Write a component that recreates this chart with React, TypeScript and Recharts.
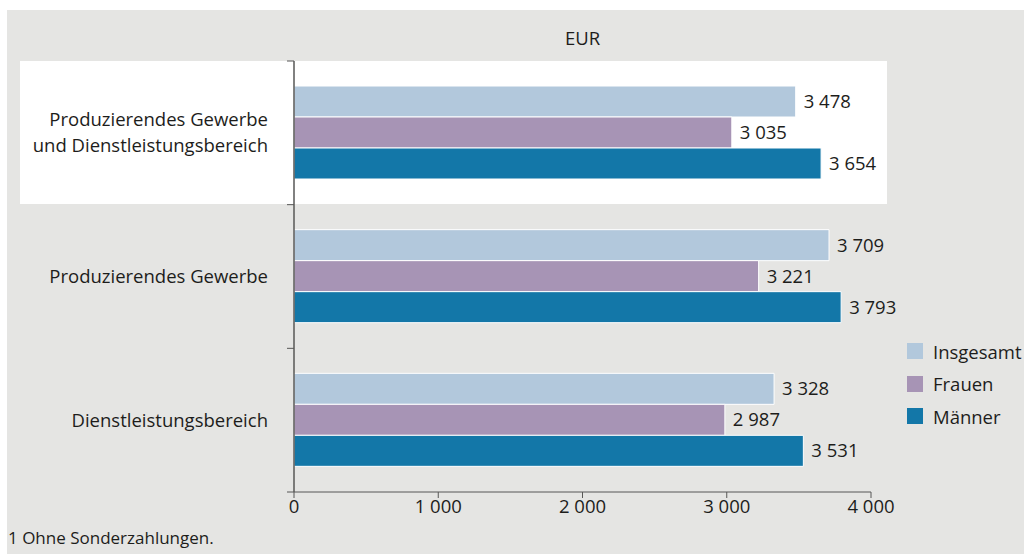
import React from 'react';
import {
  BarChart,
  Bar,
  XAxis,
  YAxis,
  LabelList,
} from 'recharts';

// Bruttomonatsverdienste (EUR), ohne Sonderzahlungen
const categories = [
  'Produzierendes Gewerbe\nund Dienstleistungsbereich',
  'Produzierendes Gewerbe',
  'Dienstleistungsbereich',
];
const insgesamt = [3478, 3709, 3328];
const frauen = [3035, 3221, 2987];
const maenner = [3654, 3793, 3531];
const xTicks = [0, 1000, 2000, 3000, 4000];

const FONT = '"Open Sans", "Noto Sans", sans-serif';
const FS = 18.5;
const TEXT = '#1d1d1b';
const AXIS = '#575756';
const CAT_MARGIN = 26;

const seriesDefs = [
  { key: 'insgesamt', name: 'Insgesamt', color: '#b2c8dc' },
  { key: 'frauen', name: 'Frauen', color: '#a794b5' },
  { key: 'maenner', name: 'Männer', color: '#1377a8' },
];

const data = categories.map((c, i) => ({
  cat: c,
  insgesamt: insgesamt[i],
  frauen: frauen[i],
  maenner: maenner[i],
}));

function fmt(v: number) {
  const s = String(Math.round(v));
  return s.replace(/\B(?=(\d{3})+(?!\d))/g, ' ');
}

// category label + tick marks on the band boundaries
const CatTick = (props: any) => {
  const { x, y, payload, index } = props;
  const lines = String(payload.value).split('\n');
  const lh = 26;
  const start = y - 1.5 - ((lines.length - 1) * lh) / 2;
  const half = payload.offset || 71.8;
  const ax = x + CAT_MARGIN;
  return (
    <g>
      <line x1={ax - 7} x2={ax} y1={y - half} y2={y - half} stroke={AXIS} strokeWidth={1} />
      {index === categories.length - 1 && (
        <line x1={ax - 7} x2={ax} y1={y + half} y2={y + half} stroke={AXIS} strokeWidth={1} />
      )}
      <text x={x} y={start} textAnchor="end" fill={TEXT} fontSize={FS} fontFamily={FONT} dominantBaseline="central">
        {lines.map((l, i) => (
          <tspan key={i} x={x} y={start + i * lh}>{l}</tspan>
        ))}
      </text>
    </g>
  );
};

const LegendBox = () => (
  <div style={{ fontFamily: FONT, fontSize: FS, color: TEXT }}>
    {seriesDefs.map(s => (
      <div key={s.key} style={{ display: 'flex', alignItems: 'center', height: 32.5 }}>
        <span style={{ width: 16, height: 16, background: s.color, display: 'inline-block', marginRight: 10 }} />
        <span>{s.name}</span>
      </div>
    ))}
  </div>
);

export default function App() {
  return (
    <div style={{ position: 'absolute', left: 0, top: 0, width: 1024, height: 554, background: '#fff', overflow: 'hidden' }}>
      <div style={{ position: 'absolute', left: 7, top: 10, width: 1017, height: 544, background: '#e5e5e3' }} />
      <div style={{ position: 'absolute', left: 20, top: 61, width: 867, height: 143, background: '#fff' }} />
      <div style={{ position: 'absolute', left: 294, width: 577, top: 25, textAlign: 'center', fontFamily: FONT, fontSize: FS, color: TEXT }}>EUR</div>
      <div style={{ position: 'absolute', left: 8, top: 526, fontFamily: FONT, fontSize: 17, color: TEXT }}>1 Ohne Sonderzahlungen.</div>
      <div style={{ position: 'absolute', left: 907, top: 335 }}>
        <LegendBox />
      </div>
      <div style={{ position: 'absolute', left: 0, top: 0 }}>
        <BarChart
          width={1024}
          height={554}
          data={data}
          layout="vertical"
          margin={{ top: 61, right: 153, bottom: 32, left: 0 }}
          barCategoryGap={24}
          barGap={0}
        >
          <YAxis
            type="category"
            dataKey="cat"
            width={294}
            axisLine={{ stroke: AXIS, strokeWidth: 1.5 }}
            tickLine={false}
            tickSize={0}
            tick={<CatTick />}
            tickMargin={CAT_MARGIN}
          />
          <XAxis
            type="number"
            domain={[0, 4000]}
            ticks={xTicks}
            tickFormatter={fmt}
            height={30}
            tickSize={6}
            axisLine={{ stroke: AXIS }}
            tickLine={{ stroke: AXIS }}
            tick={{ fill: TEXT, fontSize: FS, fontFamily: FONT }}
          />
          {seriesDefs.map(s => (
            <Bar
              key={s.key}
              dataKey={s.key}
              name={s.name}
              fill={s.color}
              stroke="#ffffff"
              strokeWidth={1}
              barSize={31}
              isAnimationActive={false}
            >
              <LabelList
                dataKey={s.key}
                position="right"
                offset={8}
                formatter={(v: any) => fmt(Number(v))}
                style={{ fill: TEXT, fontSize: FS, fontFamily: FONT }}
              />
            </Bar>
          ))}
        </BarChart>
      </div>
    </div>
  );
}
